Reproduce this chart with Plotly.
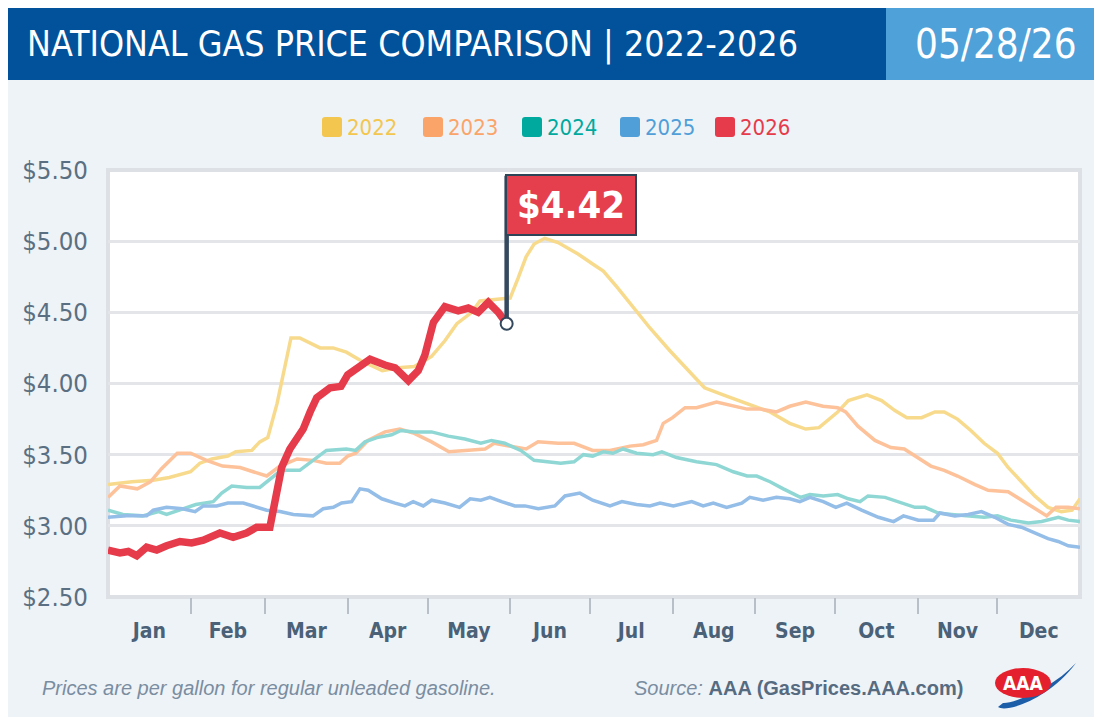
import plotly.graph_objects as go

# ---------------- data ----------------
months = ["Jan", "Feb", "Mar", "Apr", "May", "Jun", "Jul", "Aug", "Sep", "Oct", "Nov", "Dec"]
month_start_day = [0, 31, 59, 90, 120, 151, 181, 212, 243, 273, 304, 334]
days_in_year = 365
price_ticks = [2.5, 3.0, 3.5, 4.0, 4.5, 5.0, 5.5]
price_tick_labels = ["$2.50", "$3.00", "$3.50", "$4.00", "$4.50", "$5.00", "$5.50"]

years = ["2022", "2023", "2024", "2025", "2026"]

day_2022 = [0, 9, 17, 23, 31, 34.5, 39, 45, 48, 54,
            57, 60, 63.5, 66, 68.7, 72, 76, 79.6, 84.5, 89.5,
            95, 103, 109, 115, 121.5, 126.5, 131, 136.6, 139.7, 145,
            151, 154, 157, 160, 164, 169, 176.5, 182, 186, 191,
            197, 203.5, 211, 218.5, 224, 231, 238.5, 248.6, 256, 262,
            267, 271, 274, 278, 285, 290.5, 295.5, 300, 305.5, 310.5,
            314, 319, 324, 329, 334, 338, 343, 348, 353, 358,
            362, 365]
price_2022 = [3.29, 3.31, 3.32, 3.34, 3.38, 3.44, 3.47, 3.49, 3.52, 3.53,
              3.59, 3.62, 3.86, 4.09, 4.32, 4.32, 4.28, 4.25, 4.25, 4.22,
              4.16, 4.09, 4.11, 4.12, 4.19, 4.30, 4.42, 4.50, 4.58, 4.59,
              4.60, 4.74, 4.89, 4.98, 5.02, 4.99, 4.91, 4.84, 4.79, 4.68,
              4.54, 4.39, 4.23, 4.08, 3.97, 3.92, 3.87, 3.80, 3.72, 3.68,
              3.69, 3.75, 3.80, 3.88, 3.92, 3.88, 3.81, 3.76, 3.76, 3.80,
              3.80, 3.75, 3.67, 3.58, 3.51, 3.41, 3.31, 3.21, 3.13, 3.10,
              3.11, 3.19]

day_2023 = [0, 4.5, 11, 16, 20, 26, 31, 37, 43, 49.6,
            54.5, 59.6, 64.6, 71, 77, 82, 87, 90, 93, 97.6,
            104, 109.6, 115, 121.5, 128, 134, 141.6, 145, 151.6, 157,
            161.5, 169, 175, 182, 188.5, 196, 201, 206, 208.5, 212,
            216.7, 221, 228.5, 233.6, 240, 245, 251, 256, 262, 268.5,
            274, 277, 281.6, 288, 294, 299, 304, 309, 314, 319,
            325.6, 330.5, 338, 343, 348, 352.5, 356, 360.5, 365]
price_2023 = [3.20, 3.28, 3.26, 3.31, 3.40, 3.51, 3.51, 3.46, 3.42, 3.41,
              3.38, 3.35, 3.42, 3.47, 3.46, 3.44, 3.44, 3.49, 3.51, 3.60,
              3.66, 3.68, 3.65, 3.59, 3.52, 3.53, 3.54, 3.58, 3.56, 3.54,
              3.59, 3.58, 3.58, 3.53, 3.53, 3.56, 3.57, 3.60, 3.72, 3.76,
              3.83, 3.83, 3.87, 3.85, 3.82, 3.82, 3.80, 3.84, 3.87, 3.84,
              3.83, 3.80, 3.70, 3.60, 3.55, 3.54, 3.48, 3.42, 3.39, 3.35,
              3.29, 3.25, 3.24, 3.18, 3.12, 3.07, 3.13, 3.13, 3.12]

day_2024 = [0, 5.6, 13, 19, 22, 27, 33, 39.5, 42.7, 46.5,
            52, 57, 61, 65, 72, 77, 82, 89.5, 93, 96.5,
            101, 106.5, 110, 115, 121.5, 127.8, 134, 140, 144, 149,
            155, 160, 164, 170, 175, 178.5, 182, 186, 189.6, 193.4,
            198.5, 204.7, 208, 213.5, 221, 228.5, 234.8, 240, 243.6, 248.6,
            253.6, 260, 263.6, 268.6, 274, 278, 282.4, 285.4, 291.8, 298,
            303, 306.8, 311.8, 316.8, 323, 329, 334, 339, 345.6, 350.6,
            356.9, 360.6, 365]
price_2024 = [3.11, 3.08, 3.07, 3.10, 3.08, 3.11, 3.15, 3.17, 3.23, 3.28,
              3.27, 3.27, 3.33, 3.39, 3.39, 3.46, 3.53, 3.54, 3.53, 3.59,
              3.62, 3.64, 3.67, 3.66, 3.66, 3.63, 3.61, 3.58, 3.60, 3.58,
              3.53, 3.46, 3.45, 3.44, 3.45, 3.50, 3.49, 3.52, 3.51, 3.54,
              3.51, 3.50, 3.52, 3.48, 3.45, 3.43, 3.38, 3.35, 3.35, 3.31,
              3.26, 3.20, 3.22, 3.21, 3.22, 3.19, 3.17, 3.21, 3.20, 3.16,
              3.13, 3.13, 3.09, 3.08, 3.07, 3.06, 3.07, 3.04, 3.02, 3.03,
              3.06, 3.04, 3.03]

day_2025 = [0, 7, 14.5, 17, 22, 28, 32.7, 35.8, 40.8, 45,
            50.8, 55.8, 59.6, 64.6, 69.6, 77, 80.8, 84.6, 87.7, 91.5,
            94.6, 97.7, 102.8, 107.8, 111.5, 114.6, 118.4, 121.5, 126.5, 132,
            136, 140, 143.4, 147.8, 152.8, 156.6, 161.6, 167.8, 171.6, 177.2,
            182, 188.5, 193, 198.5, 203.5, 207.3, 212.3, 219.2, 223.5, 227.3,
            232.3, 238, 241, 246, 251, 256, 259.8, 263.6, 268.6, 273.3,
            277.4, 283, 289.3, 295, 298.7, 304.3, 310, 312.4, 318, 323,
            328, 333, 338, 343, 348, 353, 356.8, 360.6, 365]
price_2025 = [3.06, 3.07, 3.07, 3.11, 3.13, 3.12, 3.10, 3.14, 3.14, 3.16,
              3.16, 3.13, 3.11, 3.10, 3.08, 3.07, 3.12, 3.13, 3.16, 3.17,
              3.26, 3.25, 3.19, 3.16, 3.14, 3.17, 3.14, 3.18, 3.16, 3.13,
              3.19, 3.18, 3.20, 3.17, 3.14, 3.14, 3.12, 3.14, 3.21, 3.23,
              3.18, 3.14, 3.17, 3.15, 3.14, 3.16, 3.14, 3.17, 3.14, 3.16,
              3.13, 3.16, 3.20, 3.18, 3.20, 3.19, 3.17, 3.20, 3.17, 3.13,
              3.16, 3.11, 3.06, 3.03, 3.07, 3.04, 3.04, 3.09, 3.07, 3.08,
              3.10, 3.06, 3.01, 2.99, 2.95, 2.91, 2.89, 2.86, 2.85]

day_2026 = [0, 4.5, 7.6, 10.8, 14.5, 18.3, 22, 27, 31.4, 35.8,
            42, 47, 52, 55.8, 60.8, 62.7, 65.2, 68.3, 73.3, 75.9,
            78.4, 83.4, 87.5, 90, 93, 98.4, 104, 107.8, 112.8, 116.5,
            119, 122.2, 126.5, 131.5, 135.3, 139, 142.8, 146.6, 149.7]
price_2026 = [2.83, 2.81, 2.82, 2.79, 2.85, 2.83, 2.86, 2.89, 2.88, 2.90,
              2.95, 2.92, 2.95, 2.99, 2.99, 3.16, 3.41, 3.54, 3.68, 3.80,
              3.90, 3.97, 3.98, 4.06, 4.10, 4.17, 4.13, 4.11, 4.02, 4.09,
              4.20, 4.43, 4.54, 4.51, 4.53, 4.50, 4.57, 4.50, 4.42]

current_price_label = "$4.42"
report_date = "05/28/26"
title_text = "NATIONAL GAS PRICE COMPARISON | 2022-2026"
footnote_text = "Prices are per gallon for regular unleaded gasoline."
source_prefix = "Source:"
source_text = "AAA (GasPrices.AAA.com)"

# ---------------- styles ----------------
FONT = "DejaVu Sans Condensed, Liberation Sans Narrow, Arial Narrow, sans-serif"
FONT_REG = "Liberation Sans, Arial, Helvetica, sans-serif"
legend_colors = ["#F3C64F", "#FBA469", "#00A99D", "#509FD8", "#E63B4A"]
line_colors = ["#F8DA8C", "#FDC29A", "#8FD7D4", "#94BDE8", "#E63B4A"]
line_widths = [3.5, 3.5, 3.5, 3.5, 7.5]

# page (screenshot) geometry; the html body adds an 8px offset
OFF = 8
PAGE_W, PAGE_H = 1102, 720
W, H = PAGE_W - OFF, PAGE_H - OFF
PL, PR, PT, PB = 108, 1080, 170, 597


def px(x):
    return (x - PL) / (PR - PL)


def py(y):
    return (PB - y) / (PB - PT)


def rrect_path(x0, y0, x1, y1, r):
    pts = [
        f"M{px(x0 + r)},{py(y0)}",
        f"L{px(x1 - r)},{py(y0)}",
        f"Q{px(x1)},{py(y0)} {px(x1)},{py(y0 + r)}",
        f"L{px(x1)},{py(y1 - r)}",
        f"Q{px(x1)},{py(y1)} {px(x1 - r)},{py(y1)}",
        f"L{px(x0 + r)},{py(y1)}",
        f"Q{px(x0)},{py(y1)} {px(x0)},{py(y1 - r)}",
        f"L{px(x0)},{py(y0 + r)}",
        f"Q{px(x0)},{py(y0)} {px(x0 + r)},{py(y0)}",
        "Z",
    ]
    return " ".join(pts)


fig = go.Figure()

series_days = [day_2022, day_2023, day_2024, day_2025, day_2026]
series_prices = [price_2022, price_2023, price_2024, price_2025, price_2026]
for yr, d, p, c, w in zip(years, series_days, series_prices, line_colors, line_widths):
    fig.add_trace(go.Scatter(x=d, y=p, mode="lines", name=yr,
                             line=dict(color=c, width=w), showlegend=False,
                             hoverinfo="skip"))

# flag pole + end marker for the current year
last_day = day_2026[-1]
last_price = price_2026[-1]
pole_top = 5.46
fig.add_trace(go.Scatter(x=[last_day, last_day], y=[last_price, pole_top], mode="lines",
                         line=dict(color="#34495E", width=4.5), showlegend=False, hoverinfo="skip"))
fig.add_trace(go.Scatter(x=[last_day], y=[last_price], mode="markers",
                         marker=dict(size=12, color="white", line=dict(color="#34495E", width=2)),
                         showlegend=False, hoverinfo="skip"))

shapes = []
# page panel
shapes.append(dict(type="rect", xref="paper", yref="paper", layer="below",
                   x0=px(OFF), x1=px(PAGE_W), y0=py(80), y1=py(717),
                   fillcolor="#EEF3F8", line=dict(width=0)))
# title bar
shapes.append(dict(type="rect", xref="paper", yref="paper", layer="below",
                   x0=px(OFF), x1=px(886), y0=py(OFF), y1=py(80),
                   fillcolor="#01529B", line=dict(width=0)))
shapes.append(dict(type="rect", xref="paper", yref="paper", layer="below",
                   x0=px(886), x1=px(PAGE_W), y0=py(OFF), y1=py(80),
                   fillcolor="#4FA1D9", line=dict(width=0)))
# plot area
shapes.append(dict(type="rect", xref="paper", yref="paper", layer="below",
                   x0=0, x1=1, y0=0, y1=1,
                   fillcolor="white", line=dict(color="#DDE0E5", width=4)))

# legend squares + labels
annotations = []
legend_left = [322, 423, 522, 620, 715]
for yr, c, xl in zip(years, legend_colors, legend_left):
    shapes.append(dict(type="path", xref="paper", yref="paper", layer="above",
                       path=rrect_path(xl, 117, xl + 20, 137, 3),
                       fillcolor=c, line=dict(width=0)))
    annotations.append(dict(text=yr, xref="paper", yref="paper", x=px(xl + 24), y=py(127),
                            xanchor="left", yanchor="middle", showarrow=False, borderpad=0,
                            font=dict(family=FONT, size=22, color=c)))

# AAA logo
sw = [(998, 707), (1006, 713), (1048, 700), (1076, 663), (1052, 689), (1012, 704), (1003, 703)]
swoosh = (f"M{px(sw[0][0])},{py(sw[0][1])} C{px(sw[1][0])},{py(sw[1][1])} "
          f"{px(sw[2][0])},{py(sw[2][1])} {px(sw[3][0])},{py(sw[3][1])} "
          f"C{px(sw[4][0])},{py(sw[4][1])} {px(sw[5][0])},{py(sw[5][1])} "
          f"{px(sw[6][0])},{py(sw[6][1])} Z")
shapes.append(dict(type="path", xref="paper", yref="paper", layer="above", path=swoosh,
                   fillcolor="#1D5EA8", line=dict(width=0)))
shapes.append(dict(type="circle", xref="paper", yref="paper", layer="above",
                   x0=px(995), x1=px(1051), y0=py(698), y1=py(668),
                   fillcolor="#E4202E", line=dict(width=0)))
annotations.append(dict(text="<b>AAA</b>", xref="paper", yref="paper", x=px(1023), y=py(683),
                        xanchor="center", yanchor="middle", showarrow=False,
                        font=dict(family=FONT, size=19, color="white")))

# title + date
annotations.append(dict(text=title_text, xref="paper", yref="paper", x=px(26), y=py(44),
                        xanchor="left", yanchor="middle", showarrow=False, borderpad=0,
                        font=dict(family=FONT, size=35.5, color="white")))
annotations.append(dict(text=report_date, xref="paper", yref="paper", x=px(996), y=py(44),
                        xanchor="center", yanchor="middle", showarrow=False,
                        font=dict(family=FONT, size=40, color="white")))

# callout flag
annotations.append(dict(text="<b>" + current_price_label + "</b>", x=last_day, y=5.252,
                        xref="x", yref="y", xanchor="left", yanchor="middle", xshift=-2,
                        showarrow=False, width=124, height=54, borderpad=2,
                        bgcolor="#E53E4C", bordercolor="#2E4457", borderwidth=2,
                        font=dict(family=FONT, size=38, color="white")))

# footer
annotations.append(dict(text="<i>" + footnote_text + "</i>", xref="paper", yref="paper",
                        x=px(41), y=py(688), xanchor="left", yanchor="middle", showarrow=False,
                        borderpad=0, font=dict(family=FONT_REG, size=20, color="#7A8DA0")))
annotations.append(dict(text="<i>" + source_prefix + "</i> <b><span style='color:#566B80'>"
                        + source_text + "</span></b>",
                        xref="paper", yref="paper", borderpad=0,
                        x=px(964), y=py(688), xanchor="right", yanchor="middle", showarrow=False,
                        font=dict(family=FONT_REG, size=20, color="#7A8DA0")))

month_mid = [(month_start_day[i] + (month_start_day[i + 1] if i + 1 < len(month_start_day) else days_in_year)) / 2
             for i in range(len(month_start_day))]

fig.update_layout(
    width=W, height=H,
    margin=dict(l=PL - OFF, r=PAGE_W - PR, t=PT - OFF, b=PAGE_H - PB, pad=0, autoexpand=False),
    paper_bgcolor="white", plot_bgcolor="rgba(0,0,0,0)",
    shapes=shapes, annotations=annotations, showlegend=False,
    xaxis=dict(range=[0, days_in_year], tickmode="array", tickvals=month_mid,
               ticktext=["<b>" + m + "</b>" for m in months], automargin=False,
               ticks="outside", ticklen=15, tickcolor="rgba(0,0,0,0)",
               tickfont=dict(family=FONT, size=21, color="#4A6177"),
               showgrid=False, zeroline=False, showline=False, fixedrange=True,
               minor=dict(tickmode="array", tickvals=month_start_day[1:], ticks="outside",
                          ticklen=16, tickwidth=2, tickcolor="#B9BFC7", showgrid=False)),
    yaxis=dict(range=[2.5, 5.5], tickmode="array", tickvals=price_ticks, ticktext=price_tick_labels,
               ticks="outside", ticklen=14, tickcolor="rgba(0,0,0,0)", automargin=False,
               tickfont=dict(family=FONT, size=25.5, color="#5B6F82"),
               showgrid=True, gridcolor="#E3E5E9", gridwidth=3,
               zeroline=False, showline=False, fixedrange=True),
)

fig.write_html("out.html")
